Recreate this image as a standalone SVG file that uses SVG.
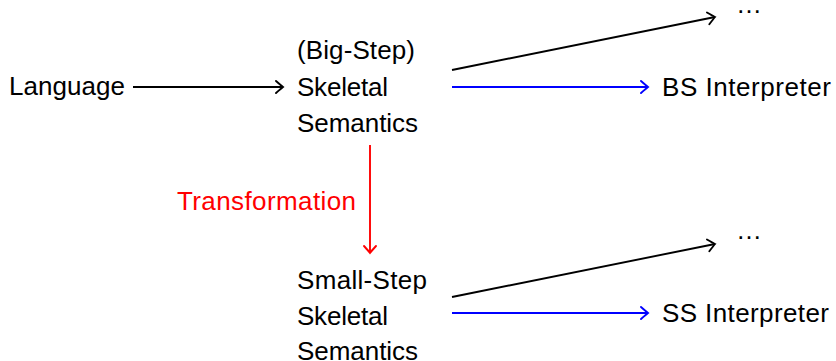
<svg xmlns="http://www.w3.org/2000/svg" width="836" height="361" viewBox="0 0 836 361">
  <style>
    text { font-family: "Liberation Sans", Arial, sans-serif; font-size: 26px; fill: #000; }
    .red { fill: #ff0000; }
    .edge { fill: none; stroke-width: 1.9; }
    .k { stroke: #000; }
    .b { stroke: #0000ff; }
    .r { stroke: #ff0000; }
  </style>
  <defs>
    <marker id="tipK" markerUnits="userSpaceOnUse" viewBox="-8 -7 10 14" markerWidth="10" markerHeight="14" refX="0" refY="0" orient="auto" overflow="visible">
      <path d="M -7 -6 Q -1.8 -1.4 0 0 Q -1.8 1.4 -7 6" fill="none" stroke="#000" stroke-width="1.9" stroke-linecap="round"/>
    </marker>
    <marker id="tipB" markerUnits="userSpaceOnUse" viewBox="-8 -7 10 14" markerWidth="10" markerHeight="14" refX="0" refY="0" orient="auto" overflow="visible">
      <path d="M -7 -6 Q -1.8 -1.4 0 0 Q -1.8 1.4 -7 6" fill="none" stroke="#0000ff" stroke-width="1.9" stroke-linecap="round"/>
    </marker>
    <marker id="tipR" markerUnits="userSpaceOnUse" viewBox="-8 -7 10 14" markerWidth="10" markerHeight="14" refX="0" refY="0" orient="auto" overflow="visible">
      <path d="M -7 -6 Q -1.8 -1.4 0 0 Q -1.8 1.4 -7 6" fill="none" stroke="#ff0000" stroke-width="1.9" stroke-linecap="round"/>
    </marker>
  </defs>

  <g id="language">
    <text x="9" y="95" textLength="116" lengthAdjust="spacing">Language</text>
  </g>

  <g id="bigstep">
    <text x="297" y="59" textLength="118" lengthAdjust="spacing">(Big-Step)</text>
    <text x="297" y="96" textLength="91" lengthAdjust="spacing">Skeletal</text>
    <text x="297" y="132" textLength="121" lengthAdjust="spacing">Semantics</text>
  </g>

  <g id="bigstep-more">
    <text x="736" y="13">…</text>
  </g>

  <g id="bs-interpreter">
    <text x="662" y="96" textLength="169" lengthAdjust="spacing">BS Interpreter</text>
  </g>

  <g id="smallstep">
    <text x="297" y="289" textLength="130" lengthAdjust="spacing">Small-Step</text>
    <text x="297" y="325" textLength="91" lengthAdjust="spacing">Skeletal</text>
    <text x="297" y="360" textLength="121" lengthAdjust="spacing">Semantics</text>
  </g>

  <g id="smallstep-more">
    <text x="736" y="239">…</text>
  </g>

  <g id="ss-interpreter">
    <text x="662" y="322" textLength="167" lengthAdjust="spacing">SS Interpreter</text>
  </g>

  <g id="connectors">
    <line class="edge k" x1="133" y1="87" x2="283" y2="87" marker-end="url(#tipK)"/>
    <line class="edge k" x1="452" y1="70" x2="715" y2="17" marker-end="url(#tipK)"/>
    <line class="edge b" x1="452" y1="87" x2="648" y2="87" marker-end="url(#tipB)"/>
    <line class="edge r" x1="370" y1="145" x2="370" y2="253" marker-end="url(#tipR)"/>
    <text class="red" x="177" y="210" textLength="179" lengthAdjust="spacing">Transformation</text>
    <line class="edge k" x1="452" y1="297" x2="715" y2="244" marker-end="url(#tipK)"/>
    <line class="edge b" x1="452" y1="313" x2="648" y2="313" marker-end="url(#tipB)"/>
  </g>
</svg>
